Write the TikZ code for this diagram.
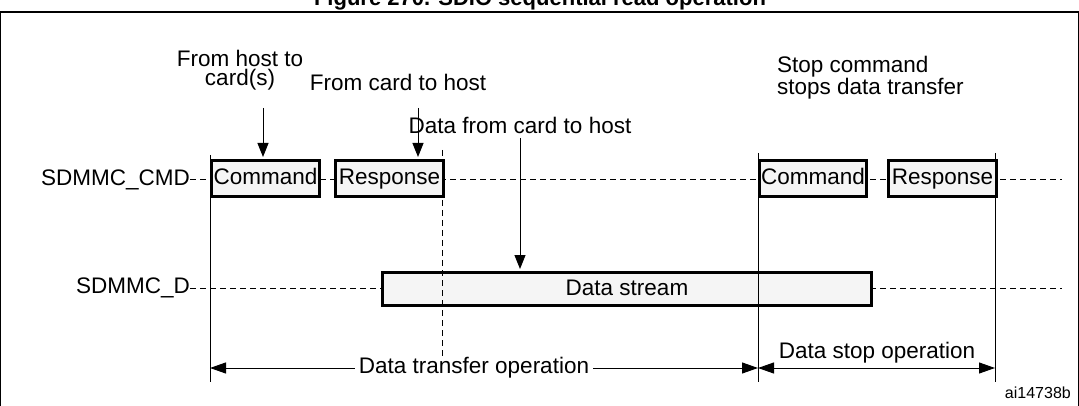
\documentclass[tikz,border=0pt]{standalone}
\usepackage{fontspec}
\setmainfont{Liberation Sans}
\usetikzlibrary{arrows.meta}
\begin{document}
\begin{tikzpicture}[x=1pt,y=-1pt,
  txt/.style={font=\fontsize{22.5}{19}\selectfont,inner sep=0pt},
  box/.style={draw,line width=3pt,fill=gray!8,font=\fontsize{22.5}{19}\selectfont,inner sep=0pt,text height=16pt,text depth=4pt,anchor=north west},
  dsh/.style={dashed,dash pattern=on 6pt off 4pt,line width=1pt},
  arr/.style={-{Triangle[length=14pt,width=11pt]},line width=1pt},
  dim/.style={{Triangle[length=16pt,width=11pt]}-{Triangle[length=16pt,width=11pt]},line width=1pt}]
\useasboundingbox (0,0) rectangle (1079,406);
\begin{scope}
\clip (0,0) rectangle (1079,406);
\node[font=\bfseries\fontsize{22}{24}\selectfont,anchor=base] (title) at (540,6) {Figure 270. SDIO sequential read operation};
\draw[line width=1.5pt] (0,12) -- (1079,12);
\draw[line width=1pt] (0.5,12) -- (0.5,406) (1078,12) -- (1078,406);
\end{scope}
% signals
\node[txt,anchor=east] (cmd) at (190,180) {SDMMC\_CMD};
\node[txt,anchor=east] (dd) at (190,288) {SDMMC\_D};
\coordinate (cmdend) at (1062,180);
\coordinate (dend) at (1062,288);
\draw[dsh] (cmd.east) -- (cmdend);
\draw[dsh] (dd.east) -- (dend);
% boxes
\node[box,minimum width=108pt,minimum height=36pt] (c1) at (210,159) {Command};
\node[box,minimum width=108pt,minimum height=36pt] (r1) at (334,159) {Response};
\node[box,minimum width=107pt,minimum height=36pt] (c2) at (758,159) {Command};
\node[box,minimum width=108pt,minimum height=36pt] (r2) at (887,159) {Response};
\node[box,minimum width=489pt,minimum height=33pt] (ds) at (381,271) {Data stream};
% vertical lines
\coordinate (v1t) at (210,155); \coordinate (v1b) at (210,382);
\coordinate (v2t) at (758,153); \coordinate (v2b) at (758,382);
\coordinate (v3t) at (995,153); \coordinate (v3b) at (995,382);
\coordinate (vdt) at (442,150); \coordinate (vdb) at (442,370);
\draw[line width=1pt] (v1t) -- (v1b) (v2t) -- (v2b) (v3t) -- (v3b);
\draw[dsh] (vdt) -- (vdb);
% labels and arrows
\node[txt,align=center,anchor=south] (l1) at (240,90) {From host to\\card(s)};
\node[txt,anchor=south] (l2) at (398,91) {From card to host};
\node[txt,anchor=south] (l3) at (520,134) {Data from card to host};
\node[txt,align=left,anchor=south west] (l4) at (777,99) {Stop command\\stops data transfer};
\coordinate (a1) at (263,108); \coordinate (a1e) at (263,157);
\coordinate (a2) at (418,108); \coordinate (a2e) at (418,157);
\coordinate (a3) at (520,138); \coordinate (a3e) at (520,269);
\draw[arr] (a1) -- (a1e);
\draw[arr] (a2) -- (a2e);
\draw[arr] (a3) -- (a3e);
% dimensions
\coordinate (d1) at (210,368); \coordinate (d2) at (758,368); \coordinate (d3) at (995,368);
\draw[dim] (d1) -- (d2) node[midway,fill=white,txt,inner xsep=4pt,xshift=-10pt] (dto) {Data transfer operation};
\draw[dim] (d2) -- (d3);
\node[txt] (dso) at (877,353) {Data stop operation};
\node[font=\fontsize{16}{18}\selectfont,inner sep=0pt,anchor=east] (id) at (1071,393) {ai14738b};
\end{tikzpicture}
\end{document}
